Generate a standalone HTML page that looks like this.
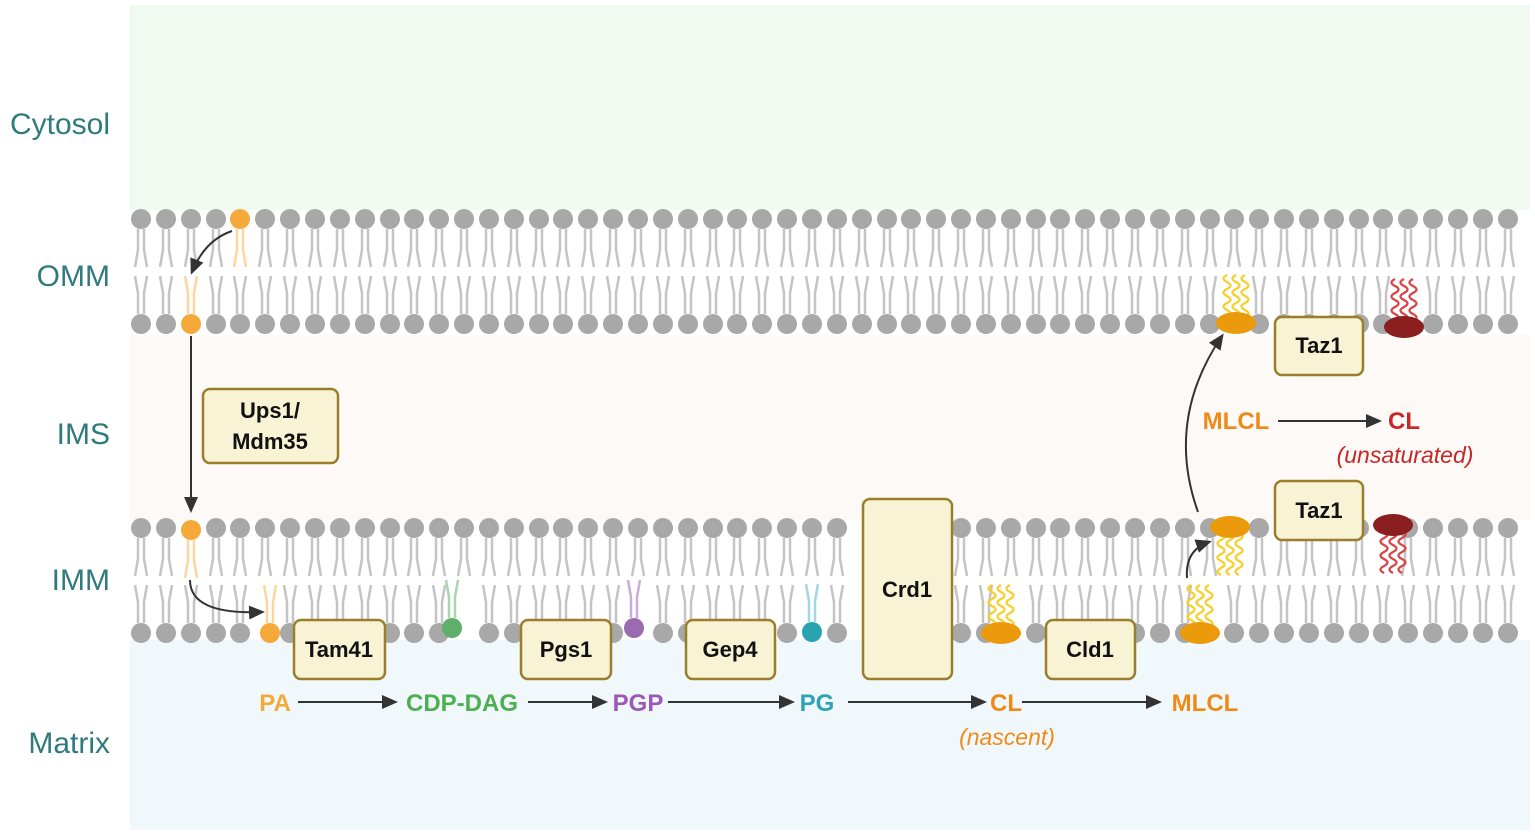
<!DOCTYPE html>
<html><head><meta charset="utf-8"><style>
html,body{margin:0;padding:0;background:#fff}
svg{display:block}
text{font-family:"Liberation Sans",sans-serif}
</style></head><body>
<svg id="s" width="1535" height="835" xmlns="http://www.w3.org/2000/svg">
<defs><marker id="ah" markerWidth="16" markerHeight="14" refX="13" refY="7" orient="auto" markerUnits="userSpaceOnUse"><path d="M0,0 L16,7 L0,14 Z" fill="#333"/></marker></defs>
<rect x="130" y="5" width="1400" height="205" fill="#f1faf1"/>
<rect x="130" y="335" width="1400" height="185" fill="#fcf9f7"/>
<rect x="130" y="640" width="1400" height="190" fill="#f1f8fc"/>
<g id="lip"></g>
<g font-size="30" fill="#2f7b7b" text-anchor="end">
<text x="110" y="134">Cytosol</text><text x="110" y="286">OMM</text><text x="110" y="444">IMS</text><text x="110" y="590">IMM</text><text x="110" y="753">Matrix</text>
</g>
<g stroke="#333" stroke-width="2" fill="none" marker-end="url(#ah)">
<path d="M232,231 Q205,240 192,272"/>
<path d="M191,336 L191,510"/>
<path d="M190,580 Q190,615 262,612"/>
<path d="M1187,578 Q1185,550 1209,542"/>
<path d="M1198,512 Q1165,420 1222,336"/>
<line x1="298" y1="702" x2="395" y2="702"/><line x1="528" y1="702" x2="605" y2="702"/>
<line x1="668" y1="702" x2="792" y2="702"/><line x1="848" y1="702" x2="984" y2="702"/>
<line x1="1022" y1="702" x2="1159" y2="702"/><line x1="1278" y1="421" x2="1379" y2="421"/>
</g>
<g fill="#f7f3d4" stroke="#9a7f2a" stroke-width="2.5">
<rect x="203" y="389" width="135" height="74" rx="7"/>
<rect x="294" y="620" width="91" height="59" rx="7"/>
<rect x="521" y="620" width="90" height="59" rx="7"/>
<rect x="686" y="620" width="89" height="59" rx="7"/>
<rect x="863" y="499" width="89" height="180" rx="7"/>
<rect x="1046" y="620" width="89" height="59" rx="7"/>
<rect x="1275" y="317" width="88" height="58" rx="7"/>
<rect x="1275" y="481" width="88" height="59" rx="7"/>
</g>
<g font-size="22" font-weight="bold" fill="#111" text-anchor="middle">
<text x="270" y="418">Ups1/</text><text x="270" y="449">Mdm35</text>
<text x="339" y="657">Tam41</text><text x="566" y="657">Pgs1</text><text x="730" y="657">Gep4</text>
<text x="907" y="597">Crd1</text><text x="1090" y="657">Cld1</text>
<text x="1319" y="353">Taz1</text><text x="1319" y="518">Taz1</text>
</g>
<g font-size="24" font-weight="bold" text-anchor="middle">
<text x="275" y="711" fill="#f5a93a">PA</text>
<text x="462" y="711" fill="#4caf50">CDP-DAG</text>
<text x="638" y="711" fill="#9b59b6">PGP</text>
<text x="817" y="711" fill="#2fa3b3">PG</text>
<text x="1006" y="711" fill="#ef8a17">CL</text>
<text x="1205" y="711" fill="#ef8a17">MLCL</text>
<text x="1236" y="429" fill="#ef8a17">MLCL</text>
<text x="1404" y="429" fill="#c62828">CL</text>
</g>
<g font-size="23" font-style="italic" text-anchor="middle">
<text x="1007" y="745" fill="#ef8a17">(nascent)</text>
<text x="1405" y="463" fill="#c62828">(unsaturated)</text>
</g>
</svg>
<script>
var g=document.getElementById('lip'),h='';
function lip(x,y,dir,c,tc){var t=dir>0?y+10:y-10,e=dir*38;
h+='<path d="M'+(x-3)+','+t+' L'+(x-3)+','+(t+e*0.55)+' L'+(x-6)+','+(t+e)+' M'+(x+3)+','+t+' L'+(x+3)+','+(t+e*0.55)+' L'+(x+6)+','+(t+e)+'" stroke="'+(tc||'#c4c4c4')+'" stroke-width="2.5" fill="none"/>';
h+='<circle cx="'+x+'" cy="'+y+'" r="10" fill="'+(c?c:'#a8a8a8')+'"/>';}
function skip(x,list){for(var i=0;i<list.length;i++)if(x>list[i][0]&&x<list[i][1])return true;return false;}
for(var x=141;x<1530;x+=24.85){var xr=Math.round(x);
 if(xr!=240)lip(xr,219,1);
 if(!skip(xr,[[180,200],[1222,1250],[1390,1420]]))lip(xr,324,-1);
 if(!skip(xr,[[180,200],[855,960],[1215,1245],[1380,1405]]))lip(xr,528,1);
 if(!skip(xr,[[260,280],[440,465],[622,646],[800,825],[855,960],[990,1012],[1190,1212]]))lip(xr,633,-1);}
lip(240,219,1,'#f5a93a','#fbd6a0');lip(191,324,-1,'#f5a93a','#fbd6a0');lip(191,530,1,'#f5a93a','#fbd6a0');lip(270,633,-1,'#f5a93a','#fbd6a0');
lip(452,628,-1,'#5fae6a','#a9d6ae');lip(634,628,-1,'#9a6bb0','#c9acd8');lip(812,632,-1,'#2aa3b0','#9fd8de');
function wavy(x,y,dir,c,n){for(var k=0;k<n;k++){var xx=x+(k-(n-1)/2)*9,d='M'+xx+','+y;for(var j=1;j<=6;j++){d+=' Q'+(xx+(j%2?7:-7))+','+(y+dir*(j-0.5)*7)+' '+xx+','+(y+dir*j*7);}h+='<path d="'+d+'" stroke="'+c+'" stroke-width="2.3" fill="none"/>';}}
function cl(x,y,dir,c,wc){wavy(x,y+dir*6,dir,wc,3);h+='<ellipse cx="'+x+'" cy="'+y+'" rx="20" ry="11" fill="'+c+'"/>';}
cl(1236,323,-1,'#eb9a0c','#f7cf2a');cl(1404,327,-1,'#8b1e1e','#d94545');
cl(1001,633,-1,'#eb9a0c','#f7cf2a');cl(1200,633,-1,'#eb9a0c','#f7cf2a');
cl(1230,527,1,'#eb9a0c','#f7cf2a');cl(1393,525,1,'#8b1e1e','#d94545');
g.innerHTML=h;
</script>
</body></html>
